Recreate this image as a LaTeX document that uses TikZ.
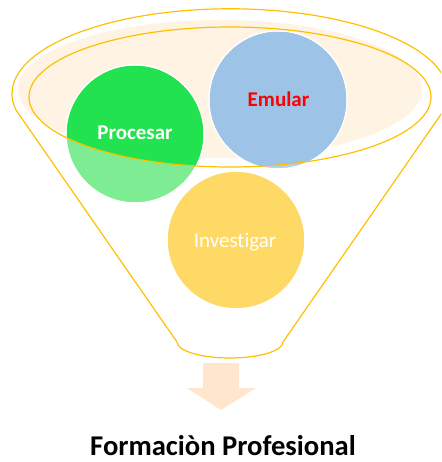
\documentclass[tikz,border=0pt]{standalone}
\usepackage{fontspec}
\setmainfont{Carlito}[Ligatures=NoCommon]
\definecolor{funnelline}{HTML}{FFC000}
\definecolor{peach}{HTML}{FFF3E4}
\definecolor{greenfull}{HTML}{23E24F}
\definecolor{greenlight}{HTML}{7EEC92}
\definecolor{bluefull}{HTML}{9DC3E6}
\definecolor{bluelight}{HTML}{B4D1EC}
\definecolor{yellowfull}{HTML}{FFD966}
\definecolor{arrowfill}{HTML}{FFE6CC}
\begin{document}
\begin{tikzpicture}[x=1pt,y=1pt,
  ball/.style={circle, minimum size=138pt, inner sep=0pt, draw=white, line width=1.5pt},
  balltext/.style={anchor=base, font=\fontsize{21}{24}\selectfont, inner sep=0pt},
  funnelstroke/.style={draw=funnelline, line width=1.2pt}]
\useasboundingbox (0,0) rectangle (441,-462);
\clip (0,0) rectangle (441,-462);
% peach background ellipse
\fill[peach] (220,-89) ellipse[x radius=202, y radius=69];
% circles (light versions)
\node[ball, fill=greenlight] (proc) at (135,-134) {};
\node[ball, fill=bluelight] (emul) at (278,-100) {};
\node[ball, fill=yellowfull] (inve) at (236,-240) {};
% full colour inside the inner ellipse
\begin{scope}
  \clip (230,-97) ellipse[x radius=201, y radius=70];
  \fill[greenfull] (proc.center) circle[radius=68.25pt];
  \fill[bluefull] (emul.center) circle[radius=68.25pt];
\end{scope}
% labels
\node[balltext, text=white, font=\fontsize{21}{24}\selectfont\bfseries] (proct) at (135,-140) {Procesar};
\node[balltext, text=red, font=\fontsize{21}{24}\selectfont\bfseries] (emult) at (278.5,-107) {Emular};
\node[balltext, text=white] (invet) at (235,-247) {Investigar};
% inner ellipse stroke
\draw[funnelstroke] (230,-97) ellipse[x radius=201, y radius=70];
% funnel outline
\coordinate (lt) at (16,-110);
\coordinate (br) at (283,-342);
\coordinate (bl) at (177,-342);
\draw[funnelstroke, line join=round] (lt) arc[start angle=191, end angle=-11, x radius=218, y radius=85]
  -- (br) arc[start angle=0, end angle=-180, x radius=53, y radius=16] -- cycle;
% arrow
\fill[arrowfill] (203,-363) -- (239,-363) -- (239,-388) -- (256,-388) -- (221,-410) -- (187,-388) -- (203,-388) -- cycle;
% title
\node[anchor=base, inner sep=0pt, font=\fontsize{28.6}{32}\selectfont\bfseries] (title) at (223,-455) {Formaciòn Profesional};
\end{tikzpicture}
\end{document}
